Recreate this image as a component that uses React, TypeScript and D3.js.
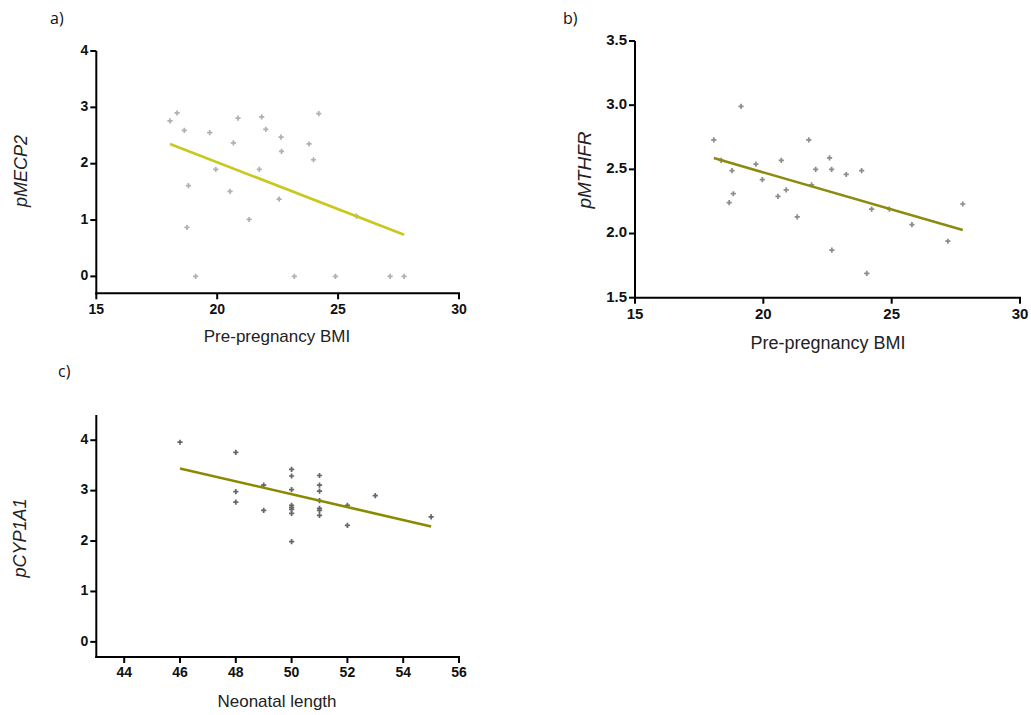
import React from "react";
import * as d3 from "d3";

// ---------- DATA ----------
// Panel a: Pre-pregnancy BMI vs pMECP2
const bmiA = [18.05, 18.34, 18.64, 18.81, 18.75, 19.11, 19.69, 19.94, 20.53, 20.67, 20.86, 21.32, 21.74, 21.84, 22.01, 22.56, 22.64, 22.66, 23.19, 23.8, 23.98, 24.2, 24.89, 25.76, 27.15, 27.73];
const mecp2 = [2.76, 2.9, 2.59, 1.61, 0.87, 0, 2.55, 1.9, 1.51, 2.37, 2.81, 1.01, 1.9, 2.83, 2.61, 1.37, 2.47, 2.22, 0, 2.35, 2.07, 2.89, 0, 1.07, 0, 0];
const fitA_x = [18.05, 27.73];
const fitA_y = [2.35, 0.74];

// Panel b: Pre-pregnancy BMI vs pMTHFR
const bmiB = [18.07, 18.36, 18.78, 18.83, 18.67, 19.13, 19.71, 19.96, 20.57, 20.7, 20.89, 21.32, 21.77, 21.88, 22.04, 22.58, 22.66, 22.67, 23.23, 23.83, 24.03, 24.22, 24.91, 25.79, 27.19, 27.77];
const mthfr = [2.73, 2.57, 2.49, 2.31, 2.24, 2.99, 2.54, 2.42, 2.29, 2.57, 2.34, 2.13, 2.73, 2.38, 2.5, 2.59, 2.5, 1.87, 2.46, 2.49, 1.69, 2.19, 2.19, 2.07, 1.94, 2.23];
const fitB_x = [18.07, 27.77];
const fitB_y = [2.588, 2.027];

// Panel c: Neonatal length vs pCYP1A1
const lenC = [46, 48, 48, 48, 49, 49, 50, 50, 50, 50, 50, 50, 50, 50, 51, 51, 51, 51, 51, 51, 51, 52, 52, 53, 55];
const cyp1a1 = [3.96, 3.76, 2.98, 2.77, 3.11, 2.61, 3.42, 3.29, 3.02, 2.71, 2.67, 2.63, 2.55, 1.99, 3.3, 3.11, 2.99, 2.8, 2.65, 2.61, 2.51, 2.71, 2.31, 2.9, 2.48];
const fitC_x = [46, 55];
const fitC_y = [3.44, 2.29];

const ticksA_x = [15, 20, 25, 30];
const ticksA_y = [0, 1, 2, 3, 4];
const ticksB_x = [15, 20, 25, 30];
const ticksB_y = [1.5, 2.0, 2.5, 3.0, 3.5];
const ticksC_x = [44, 46, 48, 50, 52, 54, 56];
const ticksC_y = [0, 1, 2, 3, 4];

type PanelProps = {
  xs: number[];
  ys: number[];
  fitX: number[];
  fitY: number[];
  xDomain: [number, number];
  yDomain: [number, number];
  xRange: [number, number];
  yRange: [number, number];
  xTicks: number[];
  yTicks: number[];
  yFormat: (v: number) => string;
  xTitle: string;
  yTitle: string;
  xTitlePos: [number, number];
  yTitlePos: [number, number];
  tag: string;
  tagPos: [number, number];
  pointColor: string;
  lineColor: string;
  tickFont: number;
  titleFont: number;
};

function Panel(p: PanelProps) {
  const x = d3.scaleLinear().domain(p.xDomain).range(p.xRange);
  const y = d3.scaleLinear().domain(p.yDomain).range(p.yRange);
  const tickLen = 6;
  const sym = d3.symbol().type(d3.symbolCross).size(15)();
  const line = d3
    .line<number>()
    .x((_, i) => x(p.fitX[i]))
    .y((d) => y(d));
  const x0 = p.xRange[0];
  const y0 = p.yRange[0];
  const tickFamily = "'Liberation Sans', Arial, sans-serif";
  return (
    <g>
      <text x={p.tagPos[0]} y={p.tagPos[1]} fontFamily="'Open Sans', sans-serif" fontSize={16} fill="#111" dominantBaseline="middle">
        {p.tag}
      </text>
      {/* points */}
      {p.xs.map((d, i) => (
        <path key={i} d={sym || ""} transform={`translate(${x(d)},${y(p.ys[i])})`} fill={p.pointColor} />
      ))}
      {/* fit line */}
      <path d={line(p.fitY) || ""} fill="none" stroke={p.lineColor} strokeWidth={2.6} />
      {/* y axis */}
      <line x1={x0} x2={x0} y1={p.yRange[1]} y2={y0 + 1} stroke="#000" strokeWidth={2} />
      {p.yTicks.map((t) => (
        <g key={"y" + t}>
          <line x1={x0 - tickLen} x2={x0} y1={y(t)} y2={y(t)} stroke="#000" strokeWidth={2} />
          <text x={x0 - tickLen - 2} y={y(t)} textAnchor="end" dominantBaseline="middle" fontFamily={tickFamily} fontWeight="bold" fontSize={p.tickFont} fill="#111">
            {p.yFormat(t)}
          </text>
        </g>
      ))}
      {/* x axis */}
      <line x1={x0 - 1} x2={p.xRange[1] + 1} y1={y0} y2={y0} stroke="#000" strokeWidth={2} />
      {p.xTicks.map((t) => (
        <g key={"x" + t}>
          <line x1={x(t)} x2={x(t)} y1={y0} y2={y0 + tickLen} stroke="#000" strokeWidth={2} />
          <text x={x(t)} y={y0 + tickLen + 4} textAnchor="middle" dominantBaseline="hanging" fontFamily={tickFamily} fontWeight="bold" fontSize={p.tickFont} fill="#111">
            {t}
          </text>
        </g>
      ))}
      <text x={p.xTitlePos[0]} y={p.xTitlePos[1]} textAnchor="middle" dominantBaseline="middle" fontFamily={tickFamily} fontSize={p.titleFont} fill="#222">
        {p.xTitle}
      </text>
      <text
        transform={`translate(${p.yTitlePos[0]},${p.yTitlePos[1]}) rotate(-90)`}
        textAnchor="middle"
        dominantBaseline="middle"
        fontFamily={tickFamily}
        fontStyle="italic"
        fontSize={p.titleFont + 1}
        fill="#222"
      >
        {p.yTitle}
      </text>
    </g>
  );
}

export default function App() {
  const intFmt = (v: number) => d3.format("d")(v);
  const decFmt = (v: number) => d3.format(".1f")(v);
  return (
    <svg width={1031} height={715} style={{ position: "absolute", left: 0, top: 0, display: "block", background: "#fff" }}>
      <Panel
        xs={bmiA}
        ys={mecp2}
        fitX={fitA_x}
        fitY={fitA_y}
        xDomain={[15, 30]}
        yDomain={[-0.3, 4]}
        xRange={[96.3, 459]}
        yRange={[293.3, 51]}
        xTicks={ticksA_x}
        yTicks={ticksA_y}
        yFormat={intFmt}
        xTitle="Pre-pregnancy BMI"
        yTitle="pMECP2"
        xTitlePos={[277, 338]}
        yTitlePos={[22, 171]}
        tag="a)"
        tagPos={[50, 20]}
        pointColor="#b0b0b0"
        lineColor="#c8c81e"
        tickFont={14}
        titleFont={17}
      />
      <Panel
        xs={bmiB}
        ys={mthfr}
        fitX={fitB_x}
        fitY={fitB_y}
        xDomain={[15, 30]}
        yDomain={[1.5, 3.5]}
        xRange={[635, 1020]}
        yRange={[297.7, 41]}
        xTicks={ticksB_x}
        yTicks={ticksB_y}
        yFormat={decFmt}
        xTitle="Pre-pregnancy BMI"
        yTitle="pMTHFR"
        xTitlePos={[828, 344]}
        yTitlePos={[586, 170]}
        tag="b)"
        tagPos={[563, 20]}
        pointColor="#8c8c8c"
        lineColor="#8b8b10"
        tickFont={15}
        titleFont={18}
      />
      <Panel
        xs={lenC}
        ys={cyp1a1}
        fitX={fitC_x}
        fitY={fitC_y}
        xDomain={[43, 56]}
        yDomain={[-0.3, 4.5]}
        xRange={[96.3, 459]}
        yRange={[657, 415]}
        xTicks={ticksC_x}
        yTicks={ticksC_y}
        yFormat={intFmt}
        xTitle="Neonatal length"
        yTitle="pCYP1A1"
        xTitlePos={[277, 703]}
        yTitlePos={[21, 538]}
        tag="c)"
        tagPos={[58, 373]}
        pointColor="#666666"
        lineColor="#8a8a00"
        tickFont={14}
        titleFont={17}
      />
    </svg>
  );
}
